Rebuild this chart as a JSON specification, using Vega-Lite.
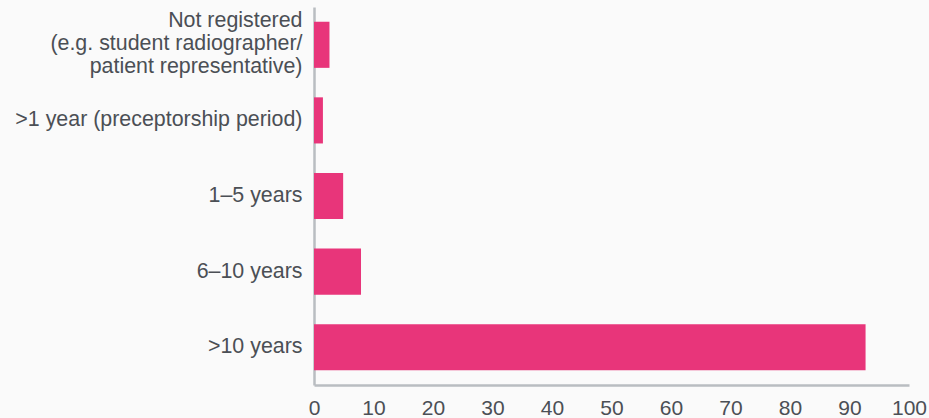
{
  "$schema": "https://vega.github.io/schema/vega-lite/v6.json",
  "width": 595,
  "height": 378,
  "autosize": {"type": "none"},
  "padding": {"left": 314, "top": 7, "right": 20, "bottom": 33},
  "background": "#fafafa",
  "data": {
    "values": [
      {"category": "Not registered (e.g. student radiographer/ patient representative)", "value": 2.6},
      {"category": ">1 year (preceptorship period)", "value": 1.5},
      {"category": "1–5 years", "value": 4.9},
      {"category": "6–10 years", "value": 7.9},
      {"category": ">10 years", "value": 92.7}
    ]
  },
  "mark": {"type": "bar", "color": "#e8357a"},
  "encoding": {
    "y": {
      "field": "category",
      "type": "nominal",
      "sort": null,
      "scale": {"paddingInner": 0.39, "paddingOuter": 0.195},
      "axis": {
        "title": null,
        "ticks": false,
        "domainColor": "#b9bdc1",
        "domainWidth": 2.5,
        "labelFont": "Liberation Sans",
        "labelFontSize": 21.4,
        "labelColor": "#4b4f55",
        "labelPadding": 12,
        "labelLimit": 400,
        "labelLineHeight": 23,
        "labelOffset": {"condition": {"test": "datum.value == 'Not registered (e.g. student radiographer/ patient representative)'", "value": -24}, "value": 0},
        "labelExpr": "datum.value == 'Not registered (e.g. student radiographer/ patient representative)' ? ['Not registered', '(e.g. student radiographer/', 'patient representative)'] : datum.value"
      }
    },
    "x": {
      "field": "value",
      "type": "quantitative",
      "scale": {"domain": [0, 100], "nice": false},
      "axis": {
        "title": null,
        "ticks": false,
        "grid": false,
        "values": [0, 10, 20, 30, 40, 50, 60, 70, 80, 90, 100],
        "domainColor": "#b9bdc1",
        "domainWidth": 2.5,
        "labelFont": "Liberation Sans",
        "labelFontSize": 21,
        "labelColor": "#4b4f55",
        "labelPadding": 12,
        "labelFlush": false,
        "labelOverlap": false
      }
    }
  },
  "config": {"view": {"stroke": null}}
}
